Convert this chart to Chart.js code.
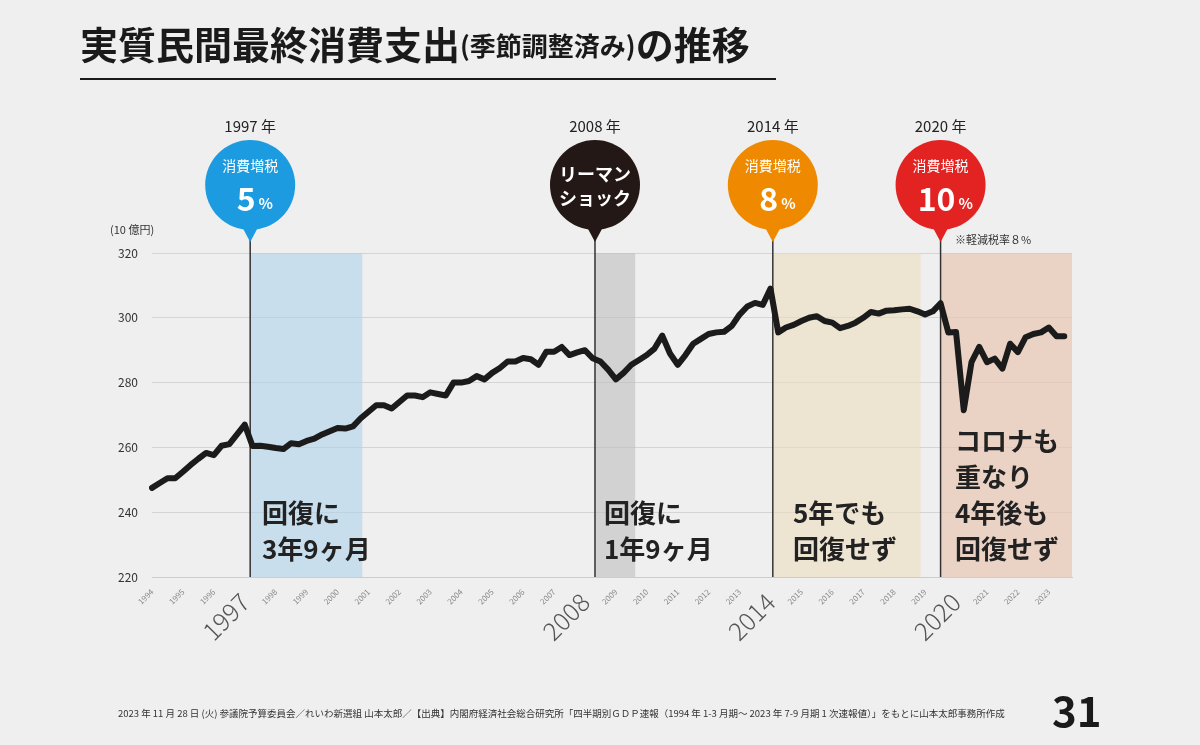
<!DOCTYPE html>
<html><head><meta charset="utf-8">
<script src="https://cdn.jsdelivr.net/npm/chart.js@4"></script>
<style>
body{margin:0;background:#efefef;}
#wrap{position:relative;width:1200px;height:745px;}
</style></head>
<body><div id="wrap"><canvas id="c" width="1200" height="745"></canvas></div>
<script>
const FONT = '"Noto Sans CJK JP", "Noto Sans", sans-serif';
// quarterly, 1994Q1 .. 2023Q3
const startYear = 1994;
const consumption = [
 247.5,249,250.5,250.5,252.5,254.6,256.5,258.3,257.6,260.5,261,264,267,260.4,260.5,260.2,
 259.8,259.5,261.3,261,262,262.7,264,265,266,265.8,266.5,269,271,273,273,272,
 274,276,276,275.5,277,276.5,276,280,280,280.5,282,281,283,284.5,286.5,286.5,
 287.6,287.2,285.5,289.5,289.5,291,288.5,289.3,290,287.5,286.5,284,281,283,285.5,287,
 288.5,290.5,294.5,289,285.5,288.5,292,293.5,295,295.5,295.7,297.5,301,303.5,304.6,304,
 309,295.5,297,297.8,299,300,300.5,299,298.5,296.8,297.5,298.5,300,301.8,301.3,302.2,
 302.3,302.6,302.8,302,301,302,304.5,295.5,295.6,271.5,286.3,291,286.3,287.4,284.3,292,
 289.4,294,295,295.5,297,294.3,294.3
];
// one extra empty quarter so the line stops short of the right edge
const quarters = consumption.concat([null]).map((v, i) => (startYear + Math.floor(i / 4)) + 'Q' + (i % 4 + 1));
const yTicks = [220, 240, 260, 280, 300, 320];
const bigYears = [1997, 2008, 2014, 2020];

// events: quarter position of line, shaded span, balloon
const eventIdx = [12.7, 57.3, 80.3, 102];
const shadeFrom = [12.7, 57.3, 80.3, 102];
const shadeTo = [27.2, 62.5, 99.4, 119];
const shadeColors = ['rgba(175,210,235,0.6)', 'rgba(190,190,190,0.6)', 'rgba(235,220,190,0.6)', 'rgba(232,200,180,0.7)'];
const eventYears = ['1997 年', '2008 年', '2014 年', '2020 年'];
const balloonColors = ['#1c9be0', '#231815', '#ef8a00', '#e32222'];
const balloonLines = [['消費増税', '5%'], ['リーマン', 'ショック'], ['消費増税', '8%'], ['消費増税', '10%']];
const notes = [['回復に', '3年9ヶ月'], ['回復に', '1年9ヶ月'], ['5年でも', '回復せず'], ['コロナも', '重なり', '4年後も', '回復せず']];

const deco = {
  id: 'deco',
  beforeDatasetsDraw(chart) {
    const { ctx, chartArea: a, scales: { x } } = chart;
    ctx.save();
    shadeFrom.forEach((f, k) => {
      const x0 = x.getPixelForValue(f), x1 = Math.min(x.getPixelForValue(shadeTo[k]), a.right);
      ctx.fillStyle = shadeColors[k];
      ctx.fillRect(x0, a.top, x1 - x0, a.bottom - a.top);
    });
    ctx.strokeStyle = '#333'; ctx.lineWidth = 1.5;
    eventIdx.forEach(i => {
      const px = x.getPixelForValue(i);
      ctx.beginPath(); ctx.moveTo(px, 238); ctx.lineTo(px, a.bottom); ctx.stroke();
    });
    ctx.fillStyle = '#222';
    ctx.font = '600 26px ' + FONT; ctx.textAlign = 'left'; ctx.textBaseline = 'alphabetic';
    const noteX = [262, 604, 793, 955];
    notes.forEach((ls, k) => {
      const y0 = a.bottom - 18 - (ls.length - 1) * 36;
      ls.forEach((t, j) => ctx.fillText(t, noteX[k], y0 + j * 36));
    });
    ctx.restore();
  },
  afterDraw(chart) {
    const { ctx, scales: { x } } = chart;
    ctx.save();
    eventIdx.forEach((i, k) => {
      const px = x.getPixelForValue(i), cy = 185, r = 45;
      ctx.fillStyle = '#222'; ctx.font = '15px ' + FONT; ctx.textAlign = 'center';
      ctx.fillText(eventYears[k], px, 132);
      ctx.fillStyle = balloonColors[k];
      ctx.beginPath(); ctx.arc(px, cy, r, 0, Math.PI * 2); ctx.fill();
      ctx.beginPath(); ctx.moveTo(px - 8, cy + r - 3); ctx.lineTo(px + 8, cy + r - 3); ctx.lineTo(px, cy + r + 12); ctx.fill();
      ctx.fillStyle = '#fff';
      if (k === 1) {
        ctx.font = 'bold 18px ' + FONT;
        ctx.fillText(balloonLines[k][0], px, cy - 4);
        ctx.fillText(balloonLines[k][1], px, cy + 20);
      } else {
        ctx.font = '14px ' + FONT;
        ctx.fillText(balloonLines[k][0], px, cy - 14);
        const pct = balloonLines[k][1];
        ctx.font = 'bold 32px ' + FONT;
        const num = pct.slice(0, -1);
        const w = ctx.measureText(num).width;
        ctx.textAlign = 'right'; ctx.fillText(num, px + w / 2 - 4, cy + 26);
        ctx.font = 'bold 15px ' + FONT; ctx.textAlign = 'left';
        ctx.fillText('%', px + w / 2 - 1, cy + 24);
        ctx.textAlign = 'center';
      }
    });
    ctx.fillStyle = '#333'; ctx.font = '11px ' + FONT; ctx.textAlign = 'left';
    ctx.fillText('※軽減税率８%', 955, 244);
    ctx.fillText('(10 億円)', 110, 234);
    ctx.restore();
  }
};

new Chart(document.getElementById('c'), {
  type: 'line',
  data: { labels: quarters, datasets: [{ data: consumption, borderColor: '#1b1b1b', borderWidth: 6, pointRadius: 0, tension: 0, borderJoinStyle: 'round', borderCapStyle: 'round' }] },
  options: {
    responsive: false, animation: false, events: [],
    layout: { padding: { left: 100, right: 128, top: 253, bottom: 100 } },
    plugins: { legend: { display: false }, tooltip: { enabled: false } },
    scales: {
      x: {
        offset: false,
        grid: { display: false },
        border: { color: '#ccc' },
        afterFit(s) { s.height = 68; },
        ticks: {
          autoSkip: false, minRotation: 45, maxRotation: 45, padding: 2,
          callback(v, i) { return i % 4 === 0 && i < consumption.length ? String(startYear + i / 4) : ''; },
          color(c) { return bigYears.includes(startYear + c.index / 4) ? '#555' : '#888'; },
          font(c) { return bigYears.includes(startYear + c.index / 4) ? { size: 25, family: FONT, weight: '300' } : { size: 8, family: FONT }; }
        }
      },
      y: {
        min: 220, max: 320,
        afterFit(s) { s.width = 52; },
        afterBuildTicks(s) { s.ticks = yTicks.map(v => ({ value: v })); },
        grid: { color: '#d4d4d4', drawTicks: false },
        border: { display: false },
        ticks: { color: '#333', padding: 14, font: { size: 12, family: FONT } }
      }
    }
  },
  plugins: [deco, {
    id: 'page',
    beforeDraw(chart) {
      const ctx = chart.ctx;
      ctx.save();
      ctx.fillStyle = '#efefef'; ctx.fillRect(0, 0, 1200, 745);
      ctx.fillStyle = '#1a1a1a'; ctx.textBaseline = 'alphabetic'; ctx.textAlign = 'left';
      ctx.font = 'bold 38px ' + FONT; ctx.fillText('実質民間最終消費支出', 80, 59);
      let w = ctx.measureText('実質民間最終消費支出').width;
      ctx.font = 'bold 26px ' + FONT; ctx.fillText('(季節調整済み)', 80 + w, 56);
      w += ctx.measureText('(季節調整済み)').width;
      ctx.font = 'bold 38px ' + FONT; ctx.fillText('の推移', 80 + w, 59);
      ctx.fillRect(80, 78, 696, 2);
      ctx.font = '9.5px ' + FONT; ctx.fillStyle = '#333';
      ctx.fillText('2023 年 11 月 28 日 (火) 参議院予算委員会／れいわ新選組 山本太郎／【出典】内閣府経済社会総合研究所「四半期別ＧＤＰ速報（1994 年 1-3 月期～ 2023 年 7-9 月期 1 次速報値）」をもとに山本太郎事務所作成', 118, 717);
      ctx.font = 'bold 42px ' + FONT; ctx.fillStyle = '#1a1a1a';
      ctx.fillText('31', 1052, 727);
      ctx.restore();
    }
  }]
});
</script></body></html>
